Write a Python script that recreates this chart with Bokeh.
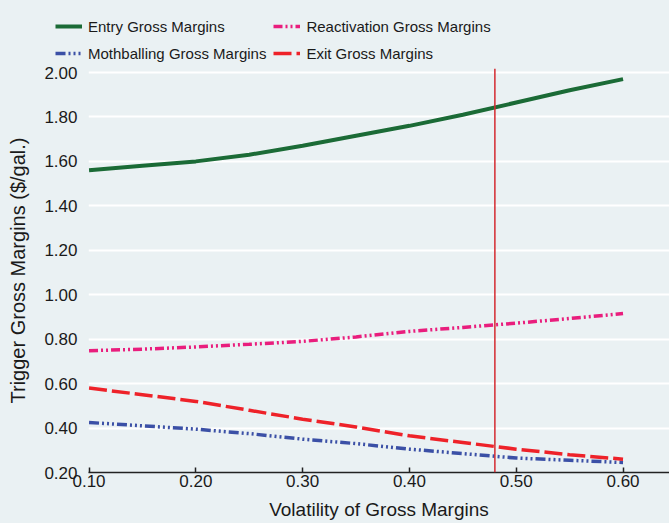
from bokeh.plotting import figure
from bokeh.models import Legend, LegendItem, Span, FixedTicker, NumeralTickFormatter, Range1d
from bokeh.embed import file_html
from bokeh.resources import INLINE

# ---- data ----
volatility = [0.10, 0.15, 0.20, 0.25, 0.30, 0.35, 0.40, 0.45, 0.50, 0.55, 0.60]
entry = [1.56, 1.58, 1.60, 1.63, 1.67, 1.715, 1.76, 1.81, 1.865, 1.92, 1.97]
reactivation = [0.748, 0.755, 0.765, 0.777, 0.79, 0.81, 0.835, 0.853, 0.872, 0.893, 0.915]
mothballing = [0.425, 0.41, 0.395, 0.375, 0.35, 0.33, 0.305, 0.285, 0.265, 0.255, 0.245]
exit_ = [0.58, 0.55, 0.52, 0.48, 0.44, 0.405, 0.365, 0.335, 0.305, 0.28, 0.26]
vline_x = 0.48
x_ticks = [0.10, 0.20, 0.30, 0.40, 0.50, 0.60]
y_ticks = [0.20, 0.40, 0.60, 0.80, 1.00, 1.20, 1.40, 1.60, 1.80, 2.00]

series = [
    ("Entry Gross Margins", entry, dict(line_color="#1B6B36", line_width=4)),
    ("Reactivation Gross Margins", reactivation, dict(line_color="#E91E7D", line_width=3.5, line_dash="9 3 2 3 2 3")),
    ("Mothballing Gross Margins", mothballing, dict(line_color="#3B50A6", line_width=3.5, line_dash="10 3 2 3 2 3 2 3")),
    ("Exit Gross Margins", exit_, dict(line_color="#EE2229", line_width=3.5, line_dash="18 5")),
]

BG = "#EAF1F3"
FONT = "Liberation Sans"
W = 669
LEG_H = 62

# ---- main plot ----
p = figure(width=W, height=523 - LEG_H, output_backend="svg", toolbar_location=None,
           x_range=Range1d(0.0995, 0.6435), y_range=Range1d(0.20, 2.018),
           min_border_left=88, min_border_right=0, min_border_top=6, min_border_bottom=51)
p.background_fill_color = BG
p.border_fill_color = BG
p.outline_line_color = None

for name, ys, style in series:
    p.line(volatility, ys, **style)

p.add_layout(Span(location=vline_x, dimension="height", line_color="#D42A30", line_width=1.5))

p.xaxis.ticker = FixedTicker(ticks=x_ticks)
p.yaxis.ticker = FixedTicker(ticks=y_ticks)
p.xaxis.formatter = NumeralTickFormatter(format="0.00")
p.yaxis.formatter = NumeralTickFormatter(format="0.00")
p.xaxis.axis_label = "Volatility of Gross Margins"
p.yaxis.axis_label = "Trigger Gross Margins ($/gal.)"
for ax in (p.xaxis, p.yaxis):
    ax.major_label_text_font = FONT
    ax.major_label_text_font_size = "17px"
    ax.major_label_text_color = "#1a1a1a"
    ax.axis_label_text_font = FONT
    ax.axis_label_text_font_style = "normal"
    ax.axis_label_text_color = "#1a1a1a"
    ax.minor_tick_line_color = None
p.xaxis.axis_label_text_font_size = "19px"
p.yaxis.axis_label_text_font_size = "20px"
p.xaxis.axis_line_color = "#222222"
p.xaxis.axis_line_width = 1.5
p.xaxis.major_tick_line_color = "#222222"
p.xaxis.major_tick_line_width = 1.5
p.xaxis.major_tick_in = 5
p.xaxis.major_tick_out = 0
p.xaxis.major_label_standoff = 2
p.xaxis.axis_label_standoff = 9
p.yaxis.axis_line_color = None
p.yaxis.major_tick_line_color = None
p.yaxis.major_tick_in = 0
p.yaxis.major_tick_out = 0
p.yaxis.major_label_standoff = 11
p.yaxis.axis_label_standoff = 12

p.xgrid.grid_line_color = None
p.ygrid.grid_line_color = "white"
p.ygrid.grid_line_width = 2

# ---- legend strip above the plot (separate root, same series) ----
lg = figure(width=W, height=LEG_H, output_backend="svg", toolbar_location=None,
            x_axis_location=None, y_axis_location=None,
            x_range=Range1d(0.0995, 0.6435), y_range=Range1d(0.20, 2.018),
            min_border=0)
lg.grid.visible = False
lg.background_fill_color = BG
lg.border_fill_color = BG
lg.outline_line_color = None

items = []
for name, ys, style in series:
    r = lg.line(volatility, ys, **style)
    r.visible = False
    items.append(LegendItem(label=name, renderers=[r]))

legend = Legend(items=items, ncols=2, orientation="horizontal", location=(55, -1))
legend.padding = 0
legend.margin = 0
legend.spacing = 7
legend.border_line_color = None
legend.background_fill_alpha = 0
legend.glyph_width = 27
legend.glyph_height = 20
legend.label_height = 20
legend.label_width = 178
legend.label_standoff = 6
legend.label_text_font = FONT
legend.label_text_font_size = "15px"
legend.label_text_color = "#1a1a1a"
lg.add_layout(legend, "center")

html = file_html([lg, p], INLINE)
html = html.replace("</head>", "<style>html, body { background: %s !important; }</style></head>" % BG, 1)
open("out.html", "w").write(html)
